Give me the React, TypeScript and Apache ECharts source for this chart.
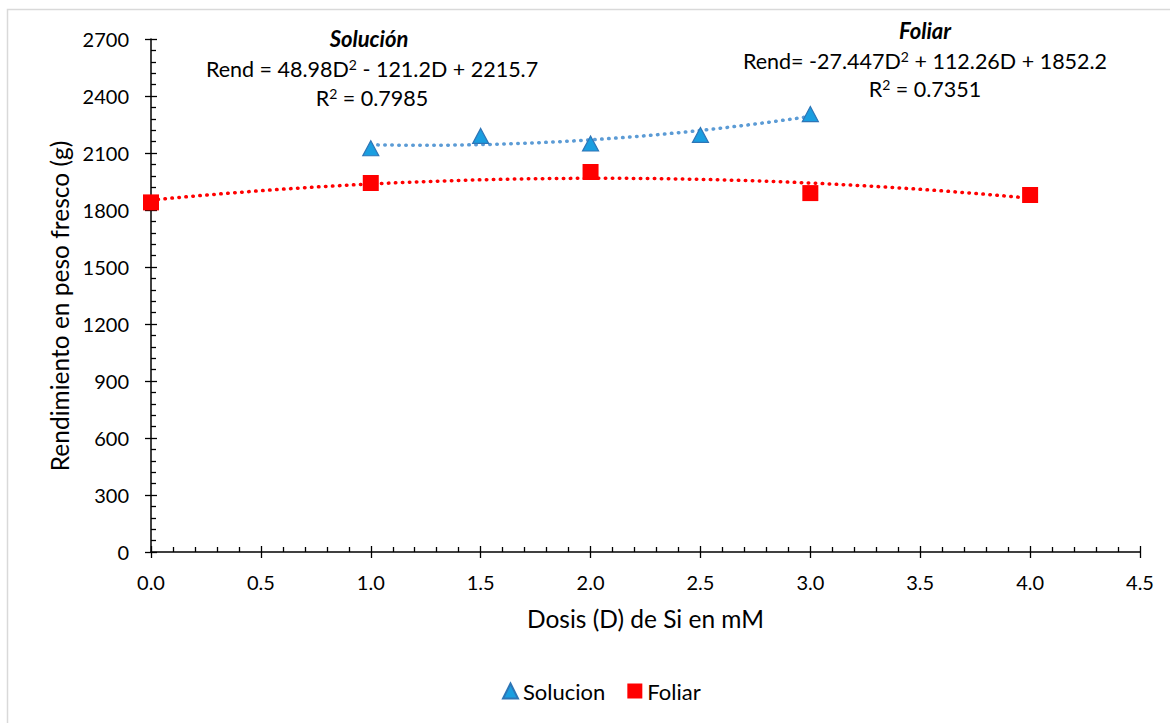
import React, { useEffect, useRef } from "react";
import * as echarts from "echarts";

const dosisSolucion = [1.0, 1.5, 2.0, 2.5, 3.0];
const rendSolucion = [2125, 2190, 2150, 2195, 2305];
const dosisFoliar = [0, 1, 2, 3, 4];
const rendFoliar = [1840, 1942, 2000, 1889, 1879];

// Trendline coefficients as printed on the chart (a*D^2 + b*D + c)
const coefSolucion = [48.98, -121.2, 2215.7];
const coefFoliar = [-27.447, 112.26, 1852.2];
const rangeSolucion = [1, 3];
const rangeFoliar = [0, 4];

const FONT = "Lato, 'Open Sans', sans-serif";

function trend(coef: number[], range: number[]) {
  const pts: number[][] = [];
  const n = 60;
  for (let i = 0; i <= n; i++) {
    const d = range[0] + ((range[1] - range[0]) * i) / n;
    pts.push([d, coef[0] * d * d + coef[1] * d + coef[2]]);
  }
  return pts;
}

export default function App() {
  const ref = useRef<HTMLDivElement>(null);
  useEffect(() => {
    document.body.style.margin = "0";
    const chart = echarts.init(ref.current!, null, { renderer: "svg" });
    const axisCommonY = {
      type: "value",
      min: 0,
      max: 2700,
      interval: 300,
      splitLine: { show: false },
    };
    const axisCommonX = {
      type: "value",
      min: 0,
      max: 4.5,
      interval: 0.5,
      splitLine: { show: false },
    };
    const richEq = {
      n: { fontFamily: FONT, fontSize: 21.5, color: "#000" },
      s: { fontFamily: FONT, fontSize: 14, color: "#000", verticalAlign: "top", padding: [0, 0, 9, 0] },
    };
    const richR = {
      n: { fontFamily: FONT, fontSize: 21.5, color: "#000" },
      s: { fontFamily: FONT, fontSize: 14, color: "#000", verticalAlign: "top", padding: [0, 0, 9, 0] },
    };
    chart.setOption({
      animation: false,
      backgroundColor: "#fff",
      textStyle: { fontFamily: FONT },
      grid: { left: 151, right: 30, top: 39, bottom: 171 },
      xAxis: [
        {
          ...axisCommonX,
          position: "bottom",
          name: "Dosis (D) de Si en mM",
          nameLocation: "middle",
          nameGap: 54,
          nameTextStyle: { fontFamily: FONT, fontSize: 24.5, color: "#000" },
          axisLine: { onZero: false, lineStyle: { color: "#000", width: 1.5 } },
          axisTick: { show: true, inside: false, length: 6, lineStyle: { color: "#000", width: 1.3 } },
          axisLabel: {
            margin: 20,
            fontFamily: FONT,
            fontSize: 20,
            color: "#000",
            formatter: (v: number) => v.toFixed(1),
          },
        },
        {
          ...axisCommonX,
          position: "bottom",
          axisLine: { show: false, onZero: false },
          axisTick: { show: true, inside: true, length: 6, lineStyle: { color: "#000", width: 1.3 } },
          minorTick: { show: true, splitNumber: 5, length: 5, lineStyle: { color: "#000", width: 1.3 } },
          axisLabel: { show: false },
        },
      ],
      yAxis: [
        {
          ...axisCommonY,
          position: "left",
          axisLine: { onZero: false, lineStyle: { color: "#000", width: 1.5 } },
          axisTick: { show: true, inside: false, length: 6, lineStyle: { color: "#000", width: 1.3 } },
          axisLabel: {
            margin: 22,
            fontFamily: FONT,
            fontSize: 20,
            color: "#000",
            formatter: (v: number) => String(v),
          },
        },
        {
          ...axisCommonY,
          position: "left",
          axisLine: { show: false, onZero: false },
          axisTick: { show: true, inside: true, length: 6, lineStyle: { color: "#000", width: 1.3 } },
          minorTick: { show: true, splitNumber: 5, length: 5, lineStyle: { color: "#000", width: 1.3 } },
          axisLabel: { show: false },
        },
      ],
      legend: {
        data: [
          { name: "Solucion", icon: "triangle" },
          { name: "Foliar", icon: "rect" },
        ],
        top: 675,
        left: 497,
        itemWidth: 15,
        itemHeight: 15,
        itemGap: 22,
        textStyle: { fontFamily: FONT, fontSize: 22, color: "#000" },
      },
      series: [
        {
          name: "Solucion trend",
          type: "line",
          data: trend(coefSolucion, rangeSolucion),
          showSymbol: false,
          symbol: "none",
          lineStyle: { color: "#5b9bd5", width: 3.5, type: [0.5, 6.5], cap: "round" },
          silent: true,
          z: 1,
        },
        {
          name: "Foliar trend",
          type: "line",
          data: trend(coefFoliar, rangeFoliar),
          showSymbol: false,
          symbol: "none",
          lineStyle: { color: "#ff0000", width: 3.5, type: [0.5, 6.5], cap: "round" },
          silent: true,
          z: 1,
        },
        {
          name: "Solucion",
          type: "scatter",
          data: dosisSolucion.map((d, i) => [d, rendSolucion[i]]),
          symbol: "triangle",
          symbolSize: [16, 15],
          itemStyle: { color: "#1a9ee0", borderColor: "#2e75b6", borderWidth: 1.2, opacity: 1 },
          z: 3,
        },
        {
          name: "Foliar",
          type: "scatter",
          data: dosisFoliar.map((d, i) => [d, rendFoliar[i]]),
          symbol: "rect",
          symbolSize: 16,
          itemStyle: { color: "#ff0000", opacity: 1 },
          z: 3,
        },
      ],
      graphic: [
        {
          type: "rect",
          shape: { x: 7.5, y: 9.5, width: 1300, height: 900 },
          style: { fill: "none", stroke: "#d9d9d9", lineWidth: 1.5 },
          silent: true,
          z: -10,
        },
        {
          type: "text",
          x: 59,
          y: 306,
          rotation: Math.PI / 2,
          style: {
            text: "Rendimiento en peso fresco (g)",
            font: `24.5px ${FONT}`,
            fill: "#000",
            align: "center",
            verticalAlign: "middle",
          },
        },
        {
          type: "text",
          x: 369,
          y: 38,
          style: { text: "Solución", font: `italic bold 22px ${FONT}`, fill: "#000", align: "center", verticalAlign: "middle" },
        },
        {
          type: "text",
          x: 372,
          y: 69,
          style: {
            text: "{n|Rend = 48.98D}{s|2}{n| - 121.2D + 2215.7}",
            rich: richEq,
            align: "center",
            verticalAlign: "middle",
          },
        },
        {
          type: "text",
          x: 372,
          y: 98,
          style: {
            text: "{n|R}{s|2}{n| = 0.7985}",
            rich: richR,
            align: "center",
            verticalAlign: "middle",
          },
        },
        {
          type: "text",
          x: 925,
          y: 30,
          style: { text: "Foliar", font: `italic bold 22px ${FONT}`, fill: "#000", align: "center", verticalAlign: "middle" },
        },
        {
          type: "text",
          x: 925,
          y: 61,
          style: {
            text: "{n|Rend= -27.447D}{s|2}{n| + 112.26D + 1852.2}",
            rich: richEq,
            align: "center",
            verticalAlign: "middle",
          },
        },
        {
          type: "text",
          x: 925,
          y: 89,
          style: {
            text: "{n|R}{s|2}{n| = 0.7351}",
            rich: richR,
            align: "center",
            verticalAlign: "middle",
          },
        },
      ],
    });
    return () => chart.dispose();
  }, []);
  return <div ref={ref} style={{ width: 1170, height: 723 }} />;
}
